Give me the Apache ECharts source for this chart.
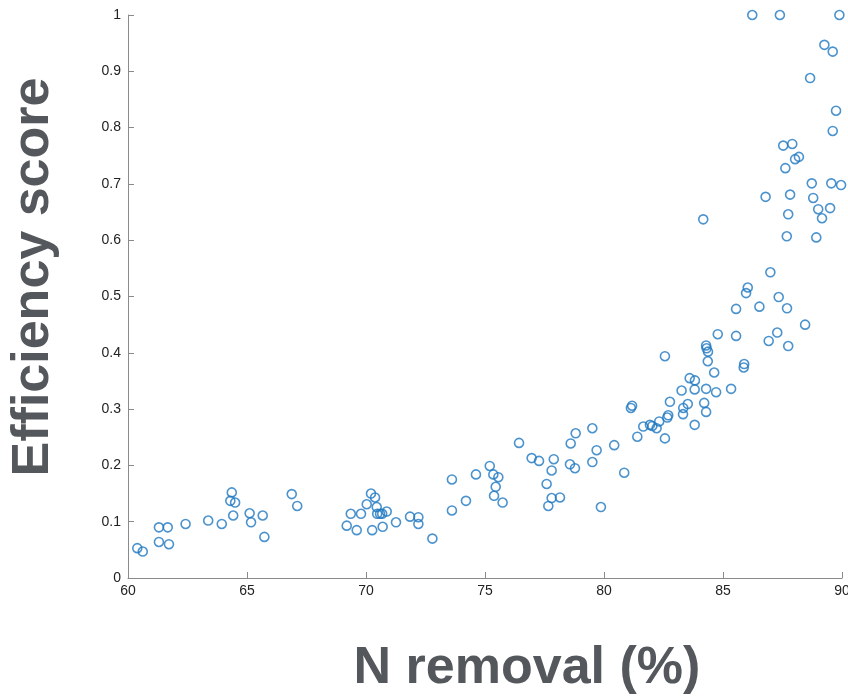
<!DOCTYPE html>
<html>
<head>
<meta charset="utf-8">
<script src="https://cdn.jsdelivr.net/npm/echarts@6/dist/echarts.min.js"></script>
<style>
  html, body { margin: 0; padding: 0; background: #fff; }
  #chart { width: 848px; height: 697px; }
</style>
</head>
<body>
<div id="chart"></div>
<script>
// N removal (%) per sample
const nRemoval = [
  60.39, 60.62, 61.30, 61.67, 61.30, 61.72, 62.42, 63.37, 63.94, 64.36,
  64.30, 64.50, 64.42, 65.11, 65.17, 65.66, 65.73, 66.88, 67.11, 69.19,
  69.36, 69.61, 69.79, 70.03, 70.21, 70.38, 70.45, 70.47, 70.59, 70.68,
  70.87, 70.26, 70.70, 71.26, 71.85, 72.20, 72.20, 72.79, 73.61, 73.61,
  74.20, 74.62, 75.20, 75.35, 75.56, 75.45, 75.38, 75.74, 76.43, 76.96,
  77.27, 77.89, 77.80, 77.59, 77.80, 78.15, 77.66, 78.60, 78.81, 78.57,
  78.78, 79.51, 79.69, 79.51, 79.87, 80.43, 80.85, 81.13, 81.18, 81.40,
  81.65, 81.93, 82.03, 82.21, 82.32, 82.56, 82.66, 82.70, 82.56, 82.77,
  83.26, 83.32, 83.33, 83.52, 83.60, 83.81, 83.81, 83.82, 84.21, 84.29,
  84.29, 84.29, 84.31, 84.37, 84.36, 84.63, 84.71, 84.78, 84.17, 85.34,
  85.55, 85.55, 85.87, 85.89, 85.97, 86.04, 86.53, 86.23, 86.79, 86.92,
  86.99, 87.28, 87.34, 87.39, 87.53, 87.62, 87.68, 87.69, 87.74, 87.74,
  87.82, 87.91, 88.03, 88.19, 88.45, 88.66, 88.73, 88.79, 88.92, 89.00,
  89.16, 89.26, 89.50, 89.55, 89.61, 89.61, 89.75, 89.89, 89.96
]
// efficiency score per sample
const efficiency = [
  0.053, 0.047, 0.090, 0.090, 0.064, 0.060, 0.096, 0.102, 0.096, 0.152,
  0.137, 0.134, 0.111, 0.115, 0.099, 0.111, 0.073, 0.149, 0.128, 0.093,
  0.114, 0.085, 0.114, 0.131, 0.150, 0.143, 0.126, 0.114, 0.114, 0.114,
  0.118, 0.085, 0.091, 0.099, 0.109, 0.108, 0.096, 0.070, 0.175, 0.120,
  0.137, 0.184, 0.199, 0.184, 0.179, 0.162, 0.146, 0.134, 0.240, 0.213,
  0.208, 0.211, 0.191, 0.167, 0.142, 0.143, 0.128, 0.239, 0.257, 0.202,
  0.195, 0.266, 0.227, 0.206, 0.126, 0.236, 0.187, 0.302, 0.306, 0.251,
  0.269, 0.272, 0.270, 0.266, 0.278, 0.248, 0.285, 0.289, 0.394, 0.313,
  0.333, 0.291, 0.302, 0.309, 0.355, 0.335, 0.272, 0.351, 0.311, 0.336,
  0.295, 0.413, 0.408, 0.402, 0.385, 0.365, 0.330, 0.433, 0.637, 0.336,
  0.430, 0.478, 0.374, 0.380, 0.506, 0.516, 0.482, 1.000, 0.677, 0.421,
  0.543, 0.436, 0.499, 1.000, 0.768, 0.728, 0.607, 0.479, 0.646, 0.412,
  0.681, 0.771, 0.744, 0.748, 0.450, 0.888, 0.701, 0.675, 0.605, 0.655,
  0.639, 0.947, 0.657, 0.701, 0.935, 0.794, 0.830, 1.000, 0.698
]
const xTicks = [60, 90, 5]   // min, max, step
const yTicks = [0, 1, 0.1]

const chart = echarts.init(document.getElementById('chart'))
const points = nRemoval.map((x, i) => [x, efficiency[i]])

const axisGrey = '#8a8a8a'
const option = {
  animation: false,
  grid: { left: 128, right: 6, top: 15, bottom: 119, outerBoundsMode: 'none' },
  xAxis: {
    type: 'value',
    min: xTicks[0],
    max: xTicks[1],
    interval: xTicks[2],
    splitLine: { show: false },
    axisLine: { lineStyle: { color: axisGrey, width: 1 } },
    axisTick: { inside: true, length: 6, lineStyle: { color: axisGrey } },
    axisLabel: { color: '#222', fontSize: 14, margin: 6, fontFamily: 'Liberation Sans' }
  },
  yAxis: {
    type: 'value',
    min: yTicks[0],
    max: yTicks[1],
    interval: yTicks[2],
    splitLine: { show: false },
    axisLine: { show: true, lineStyle: { color: axisGrey, width: 1 } },
    axisTick: { show: true, inside: true, length: 6, lineStyle: { color: axisGrey } },
    axisLabel: { color: '#222', fontSize: 14, margin: 7, fontFamily: 'Liberation Sans' }
  },
  graphic: [
    {
      type: 'text',
      x: 527,
      y: 669,
      style: {
        text: 'N removal (%)',
        fill: '#54585d',
        font: 'bold 52px "Liberation Sans", Arial, sans-serif',
        align: 'center',
        verticalAlign: 'middle'
      }
    },
    {
      type: 'text',
      x: 34,
      y: 277,
      rotation: Math.PI / 2,
      style: {
        text: 'Efficiency score',
        fill: '#54585d',
        font: 'bold 52px "Liberation Sans", Arial, sans-serif',
        align: 'center',
        verticalAlign: 'middle'
      }
    }
  ],
  series: [
    {
      type: 'scatter',
      clip: false,
      symbol: 'circle',
      symbolSize: 9,
      itemStyle: {
        color: 'rgba(0,0,0,0)',
        borderColor: '#1f78c1',
        borderWidth: 1.6
      },
      data: points
    }
  ]
}
chart.setOption(option)
</script>
</body>
</html>
